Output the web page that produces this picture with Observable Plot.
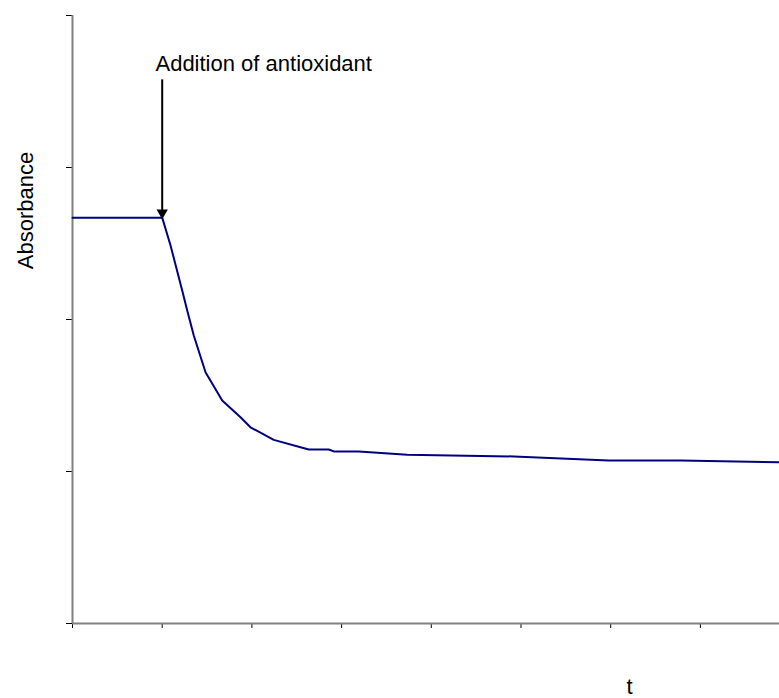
<!DOCTYPE html>
<html>
<head>
<meta charset="utf-8">
<script src="https://cdn.jsdelivr.net/npm/d3@7"></script>
<script src="https://cdn.jsdelivr.net/npm/@observablehq/plot@0.6"></script>
<style>
  html, body { margin: 0; padding: 0; background: #fff; }
  svg { font-family: "Liberation Sans", Arial, sans-serif; }
</style>
</head>
<body>
<div id="chart"></div>
<script>
// time (axis tick units) and absorbance (axis tick units)
const tValues = [0, 1.0, 1.093, 1.223, 1.279, 1.352, 1.483, 1.669, 1.873, 1.984, 2.244, 2.542, 2.634, 2.857, 2.913, 3.192, 3.731, 4.920, 5.979, 6.778, 7.882];
const absorbance = [2.67, 2.67, 2.487, 2.191, 2.059, 1.895, 1.653, 1.467, 1.357, 1.291, 1.208, 1.160, 1.145, 1.145, 1.132, 1.132, 1.110, 1.099, 1.072, 1.072, 1.061];
const xTicks = [0, 1, 2, 3, 4, 5, 6, 7];
const yTicks = [0, 1, 2, 3, 4];
const annotation = "Addition of antioxidant";
const additionTime = 1.0;
const arrowTop = 3.58;
const yLabel = "Absorbance";
const xLabel = "t";

const data = tValues.map((t, i) => ({t, a: absorbance[i]}));

const chart = Plot.plot({
  width: 779,
  height: 698,
  marginLeft: 72,
  marginRight: 0,
  marginTop: 15,
  marginBottom: 75,
  style: {fontFamily: "Liberation Sans, Arial, sans-serif", background: "#fff"},
  x: {domain: [0, 7.882], axis: null},
  y: {domain: [0, 4], axis: null},
  marks: [
    Plot.axisY({ticks: yTicks, tickSize: 6, tickFormat: () => "", label: null, stroke: "#000", strokeWidth: 1}),
    Plot.axisX({ticks: xTicks, tickSize: 5, tickFormat: () => "", label: null, stroke: "#000", strokeWidth: 1}),
    Plot.ruleX([0], {stroke: "#808080", strokeWidth: 2}),
    Plot.ruleY([0], {stroke: "#808080", strokeWidth: 2}),
    Plot.line(data, {x: "t", y: "a", stroke: "#000080", strokeWidth: 2}),
    Plot.link([{t: additionTime}], {x1: "t", x2: "t", y1: () => arrowTop, y2: () => absorbance[1] + 0.05, stroke: "#000", strokeWidth: 2}),
    Plot.dot([{t: additionTime}], {x: "t", y: () => absorbance[1], symbol: "triangle", rotate: 180, r: 4.2, fill: "#000", stroke: "none", dy: -5}),
    Plot.text([annotation], {x: 0.925, y: 3.684, text: d => d, textAnchor: "start", fontSize: 22, fill: "#000"}),
    Plot.text([yLabel], {x: -0.524, y: 2.717, text: d => d, rotate: -90, fontSize: 22, fill: "#000"}),
    Plot.text([xLabel], {x: 6.21, y: -0.42, text: d => d, fontSize: 22, fill: "#000"})
  ]
});
document.getElementById("chart").appendChild(chart);
</script>
</body>
</html>
